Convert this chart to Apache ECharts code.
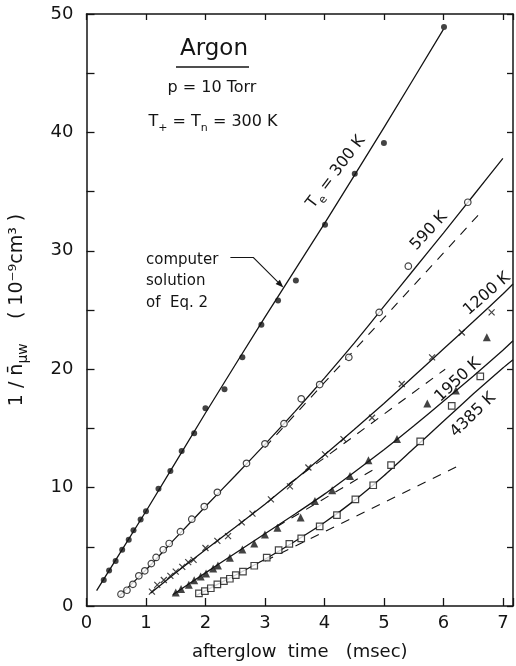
<!DOCTYPE html>
<html>
<head>
<meta charset="utf-8">
<script src="https://cdn.jsdelivr.net/npm/echarts@6/dist/echarts.min.js"></script>
<style>
html,body{margin:0;padding:0;background:#fff;}
#c{width:516px;height:666px;}
</style>
</head>
<body>
<div id="c"></div>
<script>
// ---------- tick labels ----------
const xTickLabels = ['0', '1', '2', '3', '4', '5', '6', '7'];
const yTickLabels = [0, 10, 20, 30, 40, 50];

// ---------- measured points ----------
const te300X = [0.29,0.38,0.49,0.60,0.71,0.79,0.91,1.00,1.21,1.41,1.60,1.81,2.00,2.32,2.62,2.94,3.22,3.52,4.01,4.51,5.00,6.01];
const te300Y = [2.2,3.0,3.8,4.75,5.6,6.4,7.3,8.0,9.9,11.4,13.1,14.6,16.7,18.3,21.0,23.75,25.8,27.5,32.2,36.5,39.1,48.9];

const k590X = [0.58,0.68,0.78,0.88,0.98,1.09,1.17,1.29,1.39,1.58,1.77,1.98,2.20,2.69,3.00,3.32,3.61,3.92,4.41,4.92,5.41,6.41];
const k590Y = [1.0,1.33,1.83,2.55,2.97,3.58,4.1,4.75,5.28,6.28,7.33,8.4,9.6,12.05,13.7,15.4,17.5,18.7,21.0,24.8,28.7,34.1];

const k1200X = [1.10,1.19,1.30,1.41,1.50,1.61,1.71,1.80,2.00,2.20,2.38,2.61,2.79,3.10,3.42,3.73,4.01,4.32,4.80,5.30,5.81,6.31,6.81];
const k1200Y = [1.22,1.78,2.2,2.55,2.9,3.3,3.7,3.9,4.9,5.5,5.9,7.06,7.8,9.0,10.1,11.7,12.8,14.1,15.9,18.75,21.0,23.1,24.8];

const k1950X = [1.50,1.59,1.72,1.81,1.92,2.01,2.13,2.21,2.41,2.62,2.82,3.00,3.21,3.60,3.84,4.13,4.43,4.74,5.22,5.73,6.21,6.73];
const k1950Y = [1.14,1.44,1.8,2.17,2.5,2.75,3.17,3.42,4.08,4.78,5.28,6.04,6.6,7.47,8.86,9.78,10.97,12.3,14.1,17.1,18.2,22.7];

const k4385X = [1.89,1.99,2.09,2.20,2.31,2.41,2.51,2.63,2.82,3.03,3.23,3.41,3.61,3.92,4.21,4.52,4.82,5.12,5.61,6.14,6.62];
const k4385Y = [1.06,1.25,1.5,1.83,2.1,2.3,2.6,2.9,3.4,4.08,4.72,5.25,5.72,6.72,7.67,9.0,10.2,11.9,13.9,16.9,19.4];

// ---------- computer solution curves (solid) ----------
const c300X = [0.17,1.0,2.0,3.0,4.0,5.0,6.0];
const c300Y = [1.3,8.0,16.3,24.4,32.3,40.4,48.7];

const c590X = [0.55,1.0,1.5,2.0,2.5,3.0,3.5,4.0,4.5,5.0,5.5,6.0,6.5,7.0];
const c590Y = [0.85,3.05,5.75,8.4,11.0,13.65,16.4,19.25,22.2,25.3,28.4,31.5,34.65,37.8];

const c1200X = [1.08,1.5,2.0,2.5,3.0,3.5,4.0,4.5,5.0,5.5,6.0,6.5,7.0,7.17];
const c1200Y = [1.1,2.8,4.75,6.65,8.6,10.65,12.75,14.9,17.1,19.4,21.7,24.0,26.35,27.2];

const c1950X = [1.45,2.0,2.5,3.0,3.5,4.0,4.5,5.0,5.5,6.0,6.5,7.0,7.17];
const c1950Y = [0.95,2.8,4.45,6.1,7.75,9.45,11.3,13.2,15.2,17.3,19.4,21.6,22.4];

const c4385X = [1.85,2.0,2.5,3.0,3.5,4.0,4.5,5.0,5.5,6.0,6.5,7.0,7.17];
const c4385Y = [0.9,1.3,2.6,3.95,5.45,7.05,8.9,11.0,13.3,15.6,17.9,20.1,20.8];

// ---------- dashed reference lines ----------
const d590X = [3.0, 6.62];
const d590Y = [13.4, 33.2];
const d1200X = [3.4, 6.03];
const d1200Y = [10.3, 20.0];
const d1950X = [3.2, 4.85];
const d1950Y = [6.7, 11.6];
const d4385X = [3.0, 6.32];
const d4385Y = [3.8, 12.0];

// ---------- helpers ----------
const zip = (xs, ys) => xs.map((x, i) => [x, ys[i]]);
const INK = '#141414';
const FONT = 'DejaVu Sans';

function curve(xs, ys) {
  return {
    type: 'line', data: zip(xs, ys), showSymbol: false, smooth: 0.2,
    lineStyle: { color: INK, width: 1.3 }, z: 2, silent: true
  };
}
function dashed(xs, ys) {
  return {
    type: 'line', data: zip(xs, ys), showSymbol: false,
    lineStyle: { color: INK, width: 1.1, type: [9, 8] }, z: 2, silent: true
  };
}
function pts(xs, ys, symbol, size, filled) {
  return {
    type: 'scatter', data: zip(xs, ys), symbol: symbol, symbolSize: size, z: 4, silent: true,
    itemStyle: filled
      ? { color: INK, borderColor: INK, borderWidth: 0 }
      : { color: symbol.startsWith('path') ? 'rgba(0,0,0,0)' : '#fff', borderColor: INK, borderWidth: 1.2 }
  };
}

const chart = echarts.init(document.getElementById('c'), null, { renderer: 'canvas' });

const axisLineStyle = { color: INK, width: 1.5 };
const xMax = 7.17;

const option = {
  backgroundColor: '#ffffff',
  animation: false,
  grid: { left: 79, right: 2, top: 14, bottom: 52 },
  xAxis: [
    {
      type: 'value', min: 0, max: xMax, interval: 1, position: 'bottom',
      axisLine: { show: true, onZero: false, lineStyle: axisLineStyle },
      axisTick: { show: true, inside: true, length: 8, lineStyle: { color: INK, width: 1.3 } },
      axisLabel: {
        margin: 8, fontSize: 18, color: INK, fontFamily: FONT,
        formatter: v => (Number.isInteger(v) && xTickLabels[v] !== undefined) ? xTickLabels[v] : ''
      },
      splitLine: { show: false },
      name: 'afterglow  time   (msec)', nameLocation: 'middle', nameGap: 37,
      nameTextStyle: { fontSize: 18, color: INK, fontFamily: FONT }
    },
    {
      type: 'value', min: 0, max: xMax, interval: 1, position: 'top',
      axisLine: { show: true, onZero: false, lineStyle: axisLineStyle },
      axisTick: { show: true, inside: true, length: 6, lineStyle: { color: INK, width: 1.3 } },
      axisLabel: { show: false }, splitLine: { show: false }
    }
  ],
  yAxis: [
    {
      type: 'value', min: 0, max: 50, interval: 5, position: 'left',
      axisLine: { show: true, onZero: false, lineStyle: axisLineStyle },
      axisTick: { show: true, inside: true, length: 8, lineStyle: { color: INK, width: 1.3 } },
      axisLabel: {
        margin: 13, fontSize: 18, color: INK, fontFamily: FONT,
        formatter: v => yTickLabels.includes(v) ? String(v) : ''
      },
      splitLine: { show: false },
      name: '{a|1 / n\u0304}{s|\u03bcw}{a|    ( 10\u207b\u2079cm\u00b3 )}',
      nameLocation: 'middle', nameGap: 56, nameRotate: 90,
      nameTextStyle: {
        color: INK, fontFamily: FONT,
        rich: {
          a: { fontSize: 19, lineHeight: 26, verticalAlign: 'middle', color: INK, fontFamily: FONT },
          s: { fontSize: 14, lineHeight: 14, verticalAlign: 'bottom', color: INK, fontFamily: FONT }
        }
      }
    },
    {
      type: 'value', min: 0, max: 50, interval: 5, position: 'right',
      axisLine: { show: true, onZero: false, lineStyle: axisLineStyle },
      axisTick: { show: true, inside: true, length: 6, lineStyle: { color: INK, width: 1.3 } },
      axisLabel: { show: false }, splitLine: { show: false }
    }
  ],
  series: [
    curve(c300X, c300Y),
    curve(c590X, c590Y),
    curve(c1200X, c1200Y),
    curve(c1950X, c1950Y),
    curve(c4385X, c4385Y),
    dashed(d590X, d590Y),
    dashed(d1200X, d1200Y),
    dashed(d1950X, d1950Y),
    dashed(d4385X, d4385Y),
    pts(te300X, te300Y, 'circle', 6, true),
    pts(k590X, k590Y, 'circle', 6.5, false),
    pts(k1200X, k1200Y, 'path://M0 0L10 12M10 0L0 12', 6, false),
    pts(k1950X, k1950Y, 'triangle', 8, true),
    pts(k4385X, k4385Y, 'rect', 6.5, false)
  ]
};
chart.setOption(option);

// ---------- annotations ----------
const deg = a => a * Math.PI / 180;
function label(text, x, y, rot, size, rich) {
  return {
    type: 'text', x: x, y: y, rotation: deg(rot || 0), z: 10, silent: true,
    style: {
      text: text, fill: INK, font: (size || 16) + 'px "' + FONT + '"',
      align: 'center', verticalAlign: 'middle', rich: rich || undefined
    }
  };
}
const richSub = (size) => ({
  a: { fontSize: size, lineHeight: size + 8, verticalAlign: 'middle', fill: INK, fontFamily: FONT },
  s: { fontSize: Math.round(size * 0.7), lineHeight: Math.round(size * 0.7), verticalAlign: 'bottom', fill: INK, fontFamily: FONT }
});

// arrow tip placed on the computed 300 K curve
const tip = chart.convertToPixel({ gridIndex: 0 }, [3.31, 26.9]);
const elbow = [tip[0] - 30, tip[1] - 30];
const hStart = [elbow[0] - 23, elbow[1]];
const dx = tip[0] - elbow[0], dy = tip[1] - elbow[1];
const L = Math.hypot(dx, dy), ux = dx / L, uy = dy / L;
const back = [tip[0] - 8 * ux, tip[1] - 8 * uy];
const head = [tip, [back[0] - 3 * uy, back[1] + 3 * ux], [back[0] + 3 * uy, back[1] - 3 * ux]];

chart.setOption({
  graphic: [
    label('Argon', 214, 49, 0, 23),
    { type: 'line', silent: true, shape: { x1: 176, y1: 67, x2: 249, y2: 67 }, style: { stroke: INK, lineWidth: 1.6 } },
    label('p = 10 Torr', 212, 88, 0, 16),
    label('{a|T}{s|+}{a| = T}{s|n}{a| = 300 K}', 213, 122, 0, 16, richSub(16)),
    label('{a|T}{s|e}{a| = 300 K}', 336, 172, 53, 16, richSub(16)),
    label('590 K', 429, 231, 47, 16),
    label('1200 K', 487, 294, 41, 16),
    label('1950 K', 458, 380, 43, 16),
    label('4385 K', 473, 415, 44, 16),
    { type: 'text', x: 146, y: 260, silent: true, style: { text: 'computer', fill: INK, font: '15px "' + FONT + '"', align: 'left', verticalAlign: 'middle' } },
    { type: 'text', x: 146, y: 281, silent: true, style: { text: 'solution', fill: INK, font: '15px "' + FONT + '"', align: 'left', verticalAlign: 'middle' } },
    { type: 'text', x: 146, y: 303, silent: true, style: { text: 'of  Eq. 2', fill: INK, font: '15px "' + FONT + '"', align: 'left', verticalAlign: 'middle' } },
    { type: 'polyline', silent: true, shape: { points: [hStart, elbow, back] }, style: { stroke: INK, lineWidth: 1.1, fill: null } },
    { type: 'polygon', silent: true, shape: { points: head }, style: { fill: INK } }
  ]
});
</script>
</body>
</html>
